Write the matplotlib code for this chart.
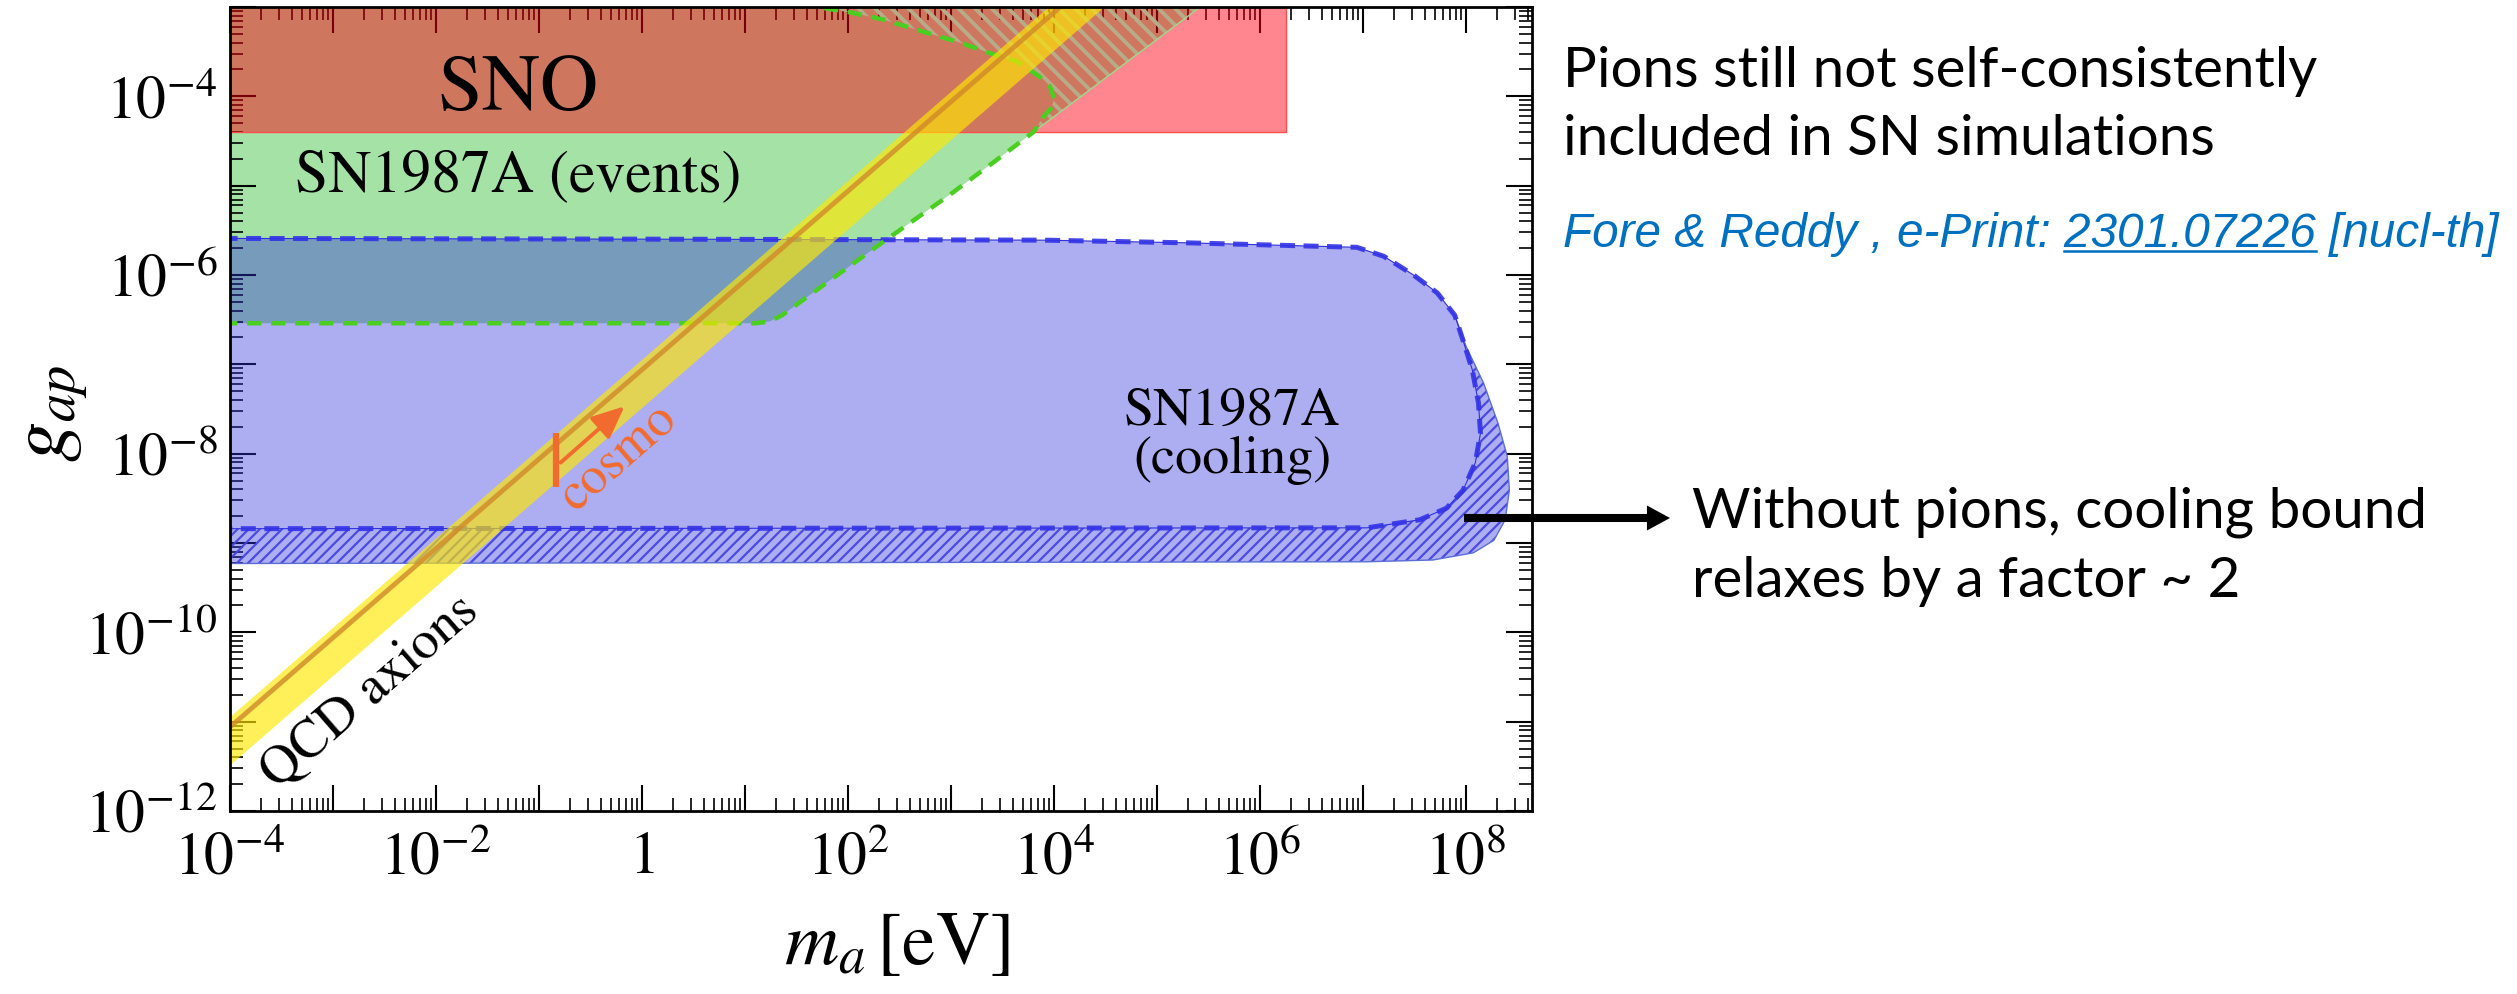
import numpy as np
import matplotlib
matplotlib.use("Agg")
import matplotlib.pyplot as plt
from matplotlib.patches import Polygon
from matplotlib.lines import Line2D
from matplotlib.ticker import FixedLocator, LogLocator, FuncFormatter, NullFormatter

plt.rcParams['mathtext.fontset'] = 'stix'
plt.rcParams['font.family'] = 'STIXGeneral'
plt.rcParams['hatch.linewidth'] = 1.6

# all regions given as log10(m_a / eV), log10(g_ap)
sno_logm = [-4.3, 6.25]
sno_logg = [-4.40, -2.90]

# SN1987A events bound (with pions, dashed edge)
ev_logm = [-4.3, 1.10, 1.24, 1.36, 1.80, 2.34, 2.99, 3.41, 3.80, 3.89, 3.98, 4.00,
           3.96, 3.86, 3.64, 3.41, 3.09, 2.77, 2.34, 2.02, 1.65, 1.40]
ev_logg = [-6.54, -6.54, -6.52, -6.45, -6.08, -5.63, -5.10, -4.74, -4.40, -4.24, -4.12, -4.02,
           -3.89, -3.78, -3.61, -3.53, -3.40, -3.29, -3.14, -3.06, -2.99, -2.95]
# straight upper edge without pions
ev_nopi_logm = [3.80, 5.50]
ev_nopi_logg = [-4.40, -2.93]

# SN1987A cooling bound (with pions, dashed edge)
cool_logm = [-4.3, 0.6, 3.9, 5.3, 6.94, 7.20, 7.49, 7.72, 7.89, 7.97, 8.06, 8.12, 8.14,
             8.09, 7.97, 7.81, 7.55, 7.04, -4.3]
cool_logg = [-5.59, -5.60, -5.61, -5.64, -5.69, -5.79, -6.00, -6.20, -6.45, -6.73, -7.06,
             -7.43, -7.77, -8.10, -8.41, -8.61, -8.74, -8.83, -8.84]
# cooling bound without pions (outer edge, from the corner round to the left)
cool_nopi_logm = [7.89, 8.00, 8.17, 8.31, 8.40, 8.42, 8.38, 8.27, 8.07, 7.68, 7.04, -4.3]
cool_nopi_logg = [-6.45, -6.80, -7.21, -7.66, -8.03, -8.41, -8.74, -8.97, -9.11, -9.19, -9.21, -9.23]

# QCD axion band
qcd_logm = [-5.0, 5.0]
qcd_logg_mid = [-12.06, -2.06]
qcd_logg_hi = [-11.94, -1.94]
qcd_logg_lo = [-12.48, -2.48]

# cosmological hot-axion limit marker
cosmo_logm = -0.835
cosmo_logg = [-7.77, -8.37]
cosmo_arrow_logm = [-0.79, -0.17]
cosmo_arrow_logg = [-8.10, -7.47]

xtick_exp = list(range(-4, 9))
ytick_exp = list(range(-12, -2))

W, H, DPI = 2517, 994, 100


def pts(lm, lg):
    return np.column_stack([10.0 ** np.asarray(lm), 10.0 ** np.asarray(lg)])


def fx(x):
    return x / W


def fy(y):
    return 1 - y / H


def hatched(poly, hlw, **kw):
    with plt.rc_context({'hatch.linewidth': hlw}):
        p = Polygon(poly, closed=True, **kw)
    if hasattr(p, 'set_hatch_linewidth'):
        p.set_hatch_linewidth(hlw)
    return p


fig = plt.figure(figsize=(W / DPI, H / DPI), dpi=DPI)
ax = fig.add_axes([fx(230), fy(811), 1302 / W, 804 / H])
ax.set_xscale('log')
ax.set_yscale('log')
ax.set_xlim(1e-4, 10 ** 8.64)
ax.set_ylim(1e-12, 1e-3)

red_c = (1.0, 0.0, 0.08, 0.48)
green_c = (0.30, 0.78, 0.30, 0.5)
blue_c = (0.20, 0.20, 0.87, 0.40)
yellow_c = (1.0, 0.91, 0.0, 0.65)

# events: green fill up to the no-pion edge
ev = pts(ev_logm, ev_logg)
ev_np = pts(ev_nopi_logm, ev_nopi_logg)
green_poly = np.vstack([ev[:9], ev_np[1:], pts([-4.3], [-2.93])])
ax.add_patch(Polygon(green_poly, closed=True, facecolor=green_c, edgecolor='none', zorder=1))

# SNO
ax.add_patch(Polygon(pts([sno_logm[0], sno_logm[1], sno_logm[1], sno_logm[0]],
                         [sno_logg[1], sno_logg[1], sno_logg[0], sno_logg[0]]),
                     closed=True, facecolor=red_c, edgecolor=(1.0, 0.3, 0.3), lw=1.0, zorder=2))

# hatched strip between the two events edges
hatch_poly = np.vstack([ev_np, ev[8:][::-1]])
ax.add_patch(hatched(hatch_poly, 2.8, facecolor='none', edgecolor='#B8AB88',
                     lw=0, hatch='\\\\', zorder=2.5))
ax.plot(ev_np[:, 0], ev_np[:, 1], color='#9FD98A', lw=1.0, zorder=2.6)

# cooling
cool = pts(cool_logm, cool_logg)
cool_np = pts(cool_nopi_logm, cool_nopi_logg)
ax.add_patch(Polygon(cool, closed=True, facecolor=blue_c, edgecolor='none', zorder=3))
ring = np.vstack([cool_np, cool[8:][::-1]])
ax.add_patch(hatched(ring, 1.6, facecolor=blue_c, edgecolor=(0.25, 0.25, 0.88, 0.9),
                     lw=0, hatch='///', zorder=3))
ax.plot(cool_np[:, 0], cool_np[:, 1], color='#5A6ED6', lw=1.0, zorder=3.5)
ax.plot(cool[:, 0], cool[:, 1], color='#3030E0', lw=0.8, zorder=3.6)
ax.plot(cool[:, 0], cool[:, 1], color=(0.2, 0.2, 0.9, 0.9), lw=3.6,
        dashes=(3.0, 1.7), zorder=3.7)

# events dashed edge
ax.plot(ev[:, 0], ev[:, 1], color='#48CF20', lw=3.2, dashes=(3.2, 2.2), zorder=4)

# QCD band
qm = 10.0 ** np.asarray(qcd_logm)
ax.fill_between(qm, 10.0 ** np.asarray(qcd_logg_lo), 10.0 ** np.asarray(qcd_logg_hi),
                color=yellow_c, lw=0, zorder=5)
ax.plot(qm, 10.0 ** np.asarray(qcd_logg_mid), color='#D08A2A', alpha=0.8, lw=3.5, zorder=5.5)

# cosmo marker
orange = '#F26B2E'
ax.plot([10 ** cosmo_logm] * 2, 10.0 ** np.asarray(cosmo_logg), color=orange, lw=4.5,
        solid_capstyle='butt', zorder=6)
ax.annotate('', xy=(10 ** cosmo_arrow_logm[1], 10 ** cosmo_arrow_logg[1]),
            xytext=(10 ** cosmo_arrow_logm[0], 10 ** cosmo_arrow_logg[0]),
            arrowprops=dict(arrowstyle='-|>,head_length=0.9,head_width=0.4', color=orange,
                            lw=2.8, mutation_scale=22, shrinkA=0, shrinkB=0), zorder=6)

# band direction on screen
p0 = ax.transData.transform((1e-2, 1e-9))
p1 = ax.transData.transform((1e2, 1e-5))
ang = np.degrees(np.arctan2(p1[1] - p0[1], p1[0] - p0[0]))

ax.text(10 ** -1.20, 10 ** -3.94, 'SNO', fontsize=58, ha='center', va='center', zorder=7)
ax.text(10 ** -1.20, 10 ** -4.90, 'SN1987A (events)', fontsize=43, ha='center', va='center', zorder=7)
ax.text(10 ** 5.73, 10 ** -7.81, 'SN1987A\n(cooling)', fontsize=39, ha='center', va='center',
        linespacing=0.98, zorder=7)
ax.text(10 ** -0.22, 10 ** -8.05, 'cosmo', fontsize=38, color=orange, ha='center', va='center',
        rotation=ang, rotation_mode='anchor', zorder=7)
ax.text(10 ** -2.64, 10 ** -10.67, 'QCD axions', fontsize=39, ha='center', va='center',
        rotation=ang, rotation_mode='anchor', zorder=7)

# axes styling
for s in ax.spines.values():
    s.set_linewidth(2.0)
    s.set_zorder(10)


def xfmt(v, pos):
    e = int(round(np.log10(v)))
    if e % 2:
        return ''
    return '$1$' if e == 0 else '$10^{%d}$' % e


def yfmt(v, pos):
    e = int(round(np.log10(v)))
    if e % 2:
        return ''
    return '$10^{%d}$' % e


ax.xaxis.set_major_locator(FixedLocator(10.0 ** np.array(xtick_exp)))
ax.yaxis.set_major_locator(FixedLocator(10.0 ** np.array(ytick_exp)))
ax.xaxis.set_minor_locator(LogLocator(base=10, subs=np.arange(2, 10), numticks=60))
ax.yaxis.set_minor_locator(LogLocator(base=10, subs=np.arange(2, 10), numticks=60))
ax.xaxis.set_major_formatter(FuncFormatter(xfmt))
ax.yaxis.set_major_formatter(FuncFormatter(yfmt))
ax.xaxis.set_minor_formatter(NullFormatter())
ax.yaxis.set_minor_formatter(NullFormatter())
ax.tick_params(which='both', direction='in', top=True, right=True, width=1.5, labelsize=43)
ax.tick_params(which='major', length=18.7)
ax.tick_params(which='minor', length=9.4, width=1.2)
ax.tick_params(axis='x', pad=15)
ax.tick_params(axis='y', pad=9)

fig.text(fx(897), fy(947), r'$m_a\,[\mathrm{eV}]$', fontsize=54, ha='center', va='center')
fig.text(fx(54), fy(413), r'$g_{ap}$', fontsize=58, ha='center', va='center', rotation=90)

# arrow to the side note
ax.annotate('', xy=(1670, H - 518), xycoords='figure pixels',
            xytext=(10 ** 7.98, 10 ** -8.72), textcoords='data',
            arrowprops=dict(arrowstyle='simple,head_length=16.6,head_width=18,tail_width=5.8',
                            mutation_scale=1, fc='black', ec='none', shrinkA=0, shrinkB=0),
            annotation_clip=False, zorder=8)

fig.canvas.draw()
renderer = fig.canvas.get_renderer()

# side notes, sized to their line widths
sans = ['Lato', 'DejaVu Sans']
blue_txt = '#0070C0'


def note(x, base, s, width=None, size=None, **kw):
    t = fig.text(fx(x), fy(base), s, ha='left', va='baseline', fontsize=size or 40, **kw)
    if width is not None:
        w = t.get_window_extent(renderer).width
        t.set_fontsize(t.get_fontsize() * width / w)
    return t


def text_width(s, t):
    probe = fig.text(0, 0, s, fontproperties=t.get_fontproperties())
    w = probe.get_window_extent(renderer).width
    probe.remove()
    return w


t1 = note(1563, 87, 'Pions still not self-consistently', width=754, family=sans)
note(1563, 155, 'included in SN simulations', size=t1.get_fontsize(), family=sans)

cite_head = 'Fore & Reddy , e-Print: '
cite_num = '2301.07226'
tc = note(1563, 247, cite_head + cite_num + ' [nucl-th]', width=935,
          family=['Liberation Sans', 'DejaVu Sans'], style='italic', color=blue_txt)
u_end = 1563 + text_width(cite_head + cite_num, tc)
u_start = u_end - text_width(cite_num, tc)
fig.add_artist(Line2D([fx(u_start), fx(u_end)], [fy(251), fy(251)], transform=fig.transFigure,
                      color=blue_txt, lw=1.8))

t3 = note(1692, 528, 'Without pions, cooling bound', width=733, family=sans)
note(1692, 597, 'relaxes by a factor ~ 2', size=t3.get_fontsize(), family=sans)

fig.savefig('out.png', dpi=DPI)
